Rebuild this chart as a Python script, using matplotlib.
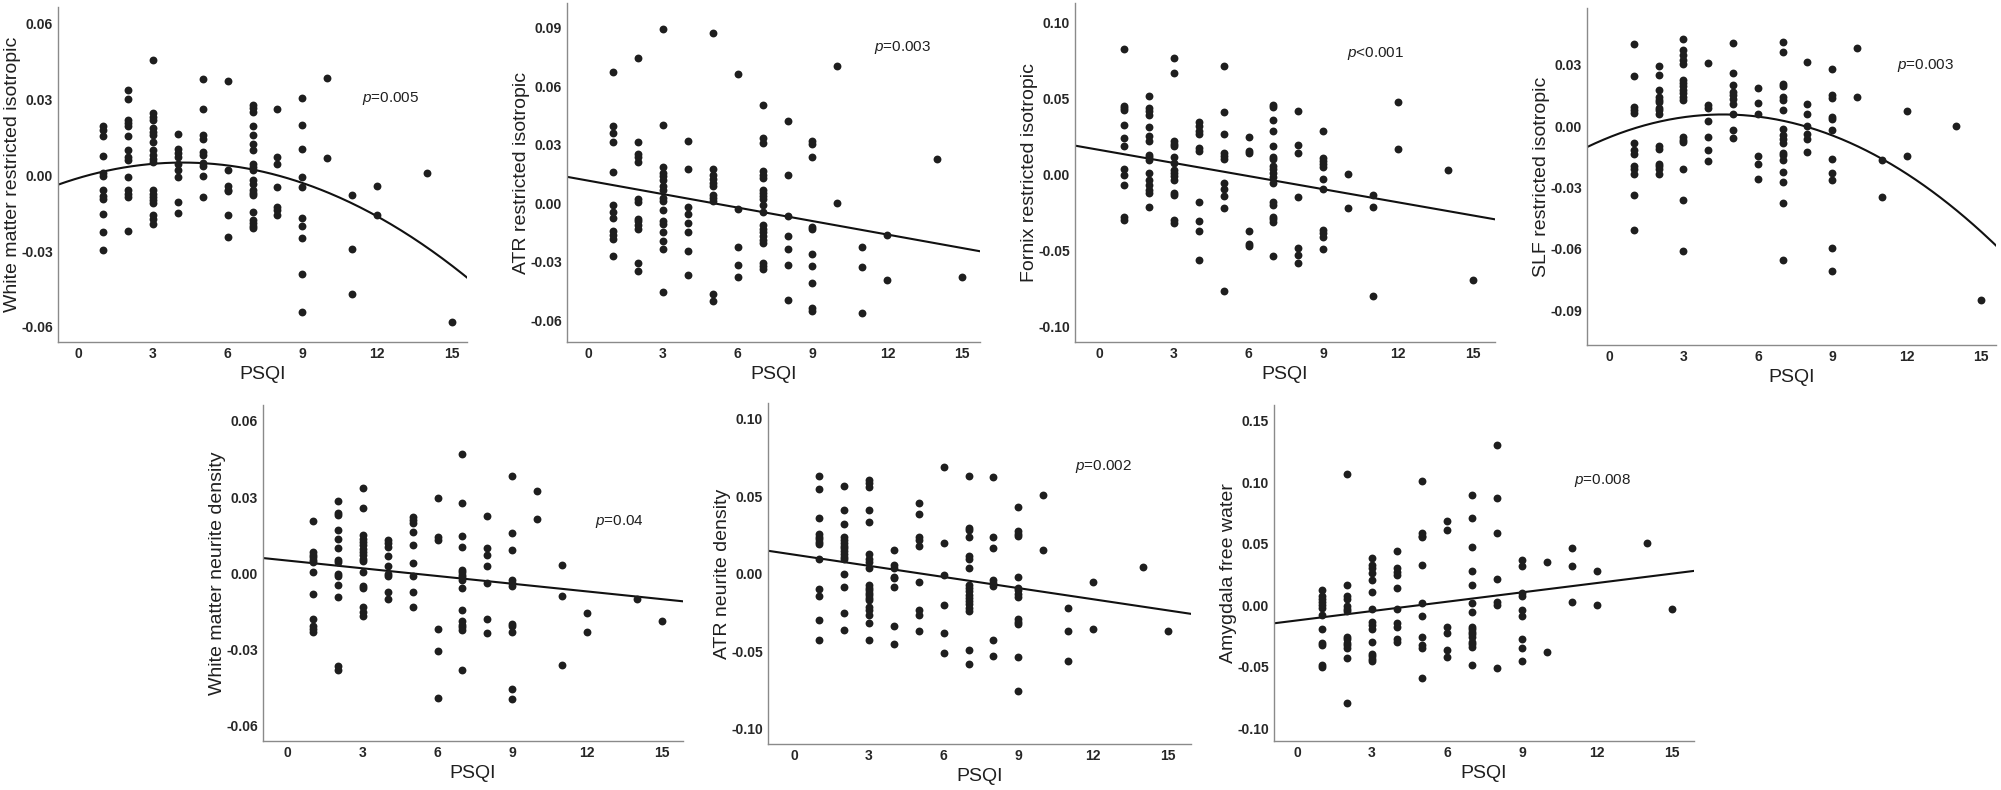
import numpy as np
import matplotlib
matplotlib.use("Agg")
import matplotlib.pyplot as plt
from matplotlib.ticker import FormatStrFormatter

plt.rcParams['font.family'] = ['Liberation Sans', 'DejaVu Sans']
plt.rcParams['axes.unicode_minus'] = False
plt.rcParams['mathtext.fontset'] = 'custom'
plt.rcParams['mathtext.it'] = 'Liberation Sans:italic'
plt.rcParams['mathtext.rm'] = 'Liberation Sans'

# residual values, grouped by PSQI score
wm_iso = {
    1: [0.0194, 0.0180, 0.0154, 0.0075, 0.0009, -0.0004, -0.0057, -0.0084, -0.0096, -0.0152, -0.0224, -0.0297],
    2: [0.0339, 0.0301, 0.0220, 0.0207, 0.0194, 0.0154, 0.0099, 0.0073, 0.0059, -0.0009, -0.0059, -0.0073, -0.0086, -0.0220],
    3: [0.0455, 0.0247, 0.0231, 0.0218, 0.0185, 0.0171, 0.0158, 0.0132, 0.0099, 0.0079, 0.0066, 0.0053, -0.0059,
        -0.0073, -0.0086, -0.0099, -0.0109, -0.0158, -0.0172, -0.0191],
    4: [0.0165, 0.0102, 0.0086, 0.0073, 0.0046, 0.0020, -0.0007, -0.0106, -0.0149],
    5: [0.0380, 0.0261, 0.0158, 0.0145, 0.0092, 0.0079, 0.0049, 0.0036, -0.0004, -0.0086],
    6: [0.0372, 0.0022, -0.0044, -0.0057, -0.0062, -0.0158, -0.0244],
    7: [0.0277, 0.0264, 0.0251, 0.0195, 0.0158, 0.0125, 0.0099, 0.0046, 0.0033, 0.0020, -0.0020, -0.0033, -0.0059,
        -0.0070, -0.0079, -0.0145, -0.0178, -0.0189, -0.0200, -0.0207],
    8: [0.0260, 0.0073, 0.0046, -0.0046, -0.0125, -0.0139, -0.0158],
    9: [0.0306, 0.0198, 0.0105, -0.0007, -0.0046, -0.0171, -0.0200, -0.0248, -0.0392, -0.0541],
    10: [0.0386, 0.0069],
    11: [-0.0079, -0.0290, -0.0468],
    12: [-0.0042, -0.0158],
    14: [0.0009],
    15: [-0.0580],
}
atr_iso = {
    1: [0.0673, 0.0394, 0.0360, 0.0313, 0.0158, -0.0009, -0.0046, -0.0077, -0.0142, -0.0163, -0.0183, -0.0274],
    2: [0.0745, 0.0313, 0.0252, 0.0236, 0.0209, 0.0022, 0.0005, -0.0080, -0.0094, -0.0111, -0.0132, -0.0308, -0.0346],
    3: [0.0894, 0.0399, 0.0185, 0.0154, 0.0137, 0.0120, 0.0086, 0.0065, 0.0026, 0.0012, -0.0038, -0.0094, -0.0108,
        -0.0146, -0.0197, -0.0236, -0.0457],
    4: [0.0320, 0.0175, -0.0021, -0.0055, -0.0103, -0.0149, -0.0248, -0.0368],
    5: [0.0873, 0.0176, 0.0142, 0.0125, 0.0103, 0.0086, 0.0039, 0.0026, 0.0012, -0.0466, -0.0500],
    6: [0.0664, -0.0029, -0.0223, -0.0317, -0.0377],
    7: [0.0502, 0.0334, 0.0308, 0.0163, 0.0146, 0.0128, 0.0065, 0.0051, 0.0034, 0.0022, -0.0009, -0.0046, -0.0115,
        -0.0132, -0.0146, -0.0171, -0.0188, -0.0205, -0.0308, -0.0325, -0.0337],
    8: [0.0420, 0.0146, -0.0068, -0.0171, -0.0236, -0.0320, -0.0497],
    9: [0.0320, 0.0303, 0.0235, -0.0123, -0.0134, -0.0262, -0.0325, -0.0408, -0.0539, -0.0553],
    10: [0.0705, 0.0],
    11: [-0.0226, -0.0329, -0.0565],
    12: [-0.0163, -0.0397],
    14: [0.0226],
    15: [-0.0380],
}
fornix_iso = {
    1: [0.0829, 0.0455, 0.0440, 0.0429, 0.0330, 0.0246, 0.0191, 0.0037, 0.0, -0.0066, -0.0279, -0.0297],
    2: [0.0521, 0.0440, 0.0418, 0.0396, 0.0312, 0.0257, 0.0220, 0.0132, 0.0116, 0.0099, 0.0011, -0.0033, -0.0066,
        -0.0099, -0.0116, -0.0213],
    3: [0.0769, 0.0670, 0.0220, 0.0204, 0.0187, 0.0116, 0.0077, 0.0033, 0.0015, -0.0007, -0.0033, -0.0116, -0.0132,
        -0.0297, -0.0314],
    4: [0.0345, 0.0323, 0.0292, 0.0270, 0.0176, 0.0160, -0.0180, -0.0301, -0.0369, -0.0560],
    5: [0.0719, 0.0411, 0.0270, 0.0143, 0.0125, 0.0103, -0.0051, -0.0095, -0.0136, -0.0220, -0.0763],
    6: [0.0248, 0.0160, 0.0147, -0.0367, -0.0455, -0.0468],
    7: [0.0462, 0.0446, 0.0358, 0.0292, 0.0193, 0.0121, 0.0103, 0.0059, 0.0037, 0.0011, -0.0011, -0.0051, -0.0176,
        -0.0198, -0.0275, -0.0292, -0.0308, -0.0532],
    8: [0.0422, 0.0198, 0.0143, -0.0143, -0.0484, -0.0527, -0.0582],
    9: [0.0292, 0.0110, 0.0092, 0.0073, 0.0051, -0.0029, -0.0095, -0.0363, -0.0385, -0.0411, -0.0488],
    10: [0.0004, -0.0220],
    11: [-0.0132, -0.0209, -0.0798],
    12: [0.0477, 0.0169],
    14: [0.0029],
    15: [-0.0692],
}
slf_iso = {
    1: [0.0402, 0.0245, 0.0095, 0.0082, 0.0065, -0.0082, -0.0118, -0.0137, -0.0196, -0.0207, -0.0232, -0.0335, -0.0509],
    2: [0.0296, 0.0250, 0.0176, 0.0144, 0.0131, 0.0119, 0.0091, 0.0078, 0.0062, -0.0098, -0.0109, -0.0183, -0.0196,
        -0.0207, -0.0232],
    3: [0.0429, 0.0372, 0.0348, 0.0323, 0.0307, 0.0229, 0.0212, 0.0196, 0.0180, 0.0163, 0.0144, 0.0127, -0.0052,
        -0.0069, -0.0077, -0.0211, -0.0362, -0.0611],
    4: [0.0310, 0.0103, 0.0091, 0.0026, -0.0052, -0.0118, -0.0170],
    5: [0.0410, 0.0263, 0.0201, 0.0168, 0.0152, 0.0136, 0.0108, 0.0059, -0.0016, -0.0057],
    6: [0.0189, 0.0114, 0.0059, -0.0147, -0.0183, -0.0260],
    7: [0.0413, 0.0364, 0.0209, 0.0196, 0.0144, 0.0131, 0.0082, -0.0011, -0.0044, -0.0060, -0.0082, -0.0131, -0.0142,
        -0.0167, -0.0224, -0.0273, -0.0376, -0.0656],
    8: [0.0315, 0.0111, 0.0059, 0.0, -0.0036, -0.0060, -0.0126],
    9: [0.0282, 0.0152, 0.0140, 0.0046, 0.0034, -0.0016, -0.0158, -0.0229, -0.0261, -0.0596, -0.0709],
    10: [0.0384, 0.0144],
    11: [-0.0167, -0.0346],
    12: [0.0075, -0.0147],
    14: [0.0002],
    15: [-0.0849],
}
wm_nd = {
    1: [0.0204, 0.0083, 0.0072, 0.0063, 0.0053, 0.0042, 0.0004, -0.0082, -0.0180, -0.0208, -0.0221, -0.0233],
    2: [0.0286, 0.0237, 0.0230, 0.0168, 0.0136, 0.0099, 0.0050, 0.0042, -0.0003, -0.0013, -0.0049, -0.0095,
        -0.0366, -0.0382],
    3: [0.0336, 0.0257, 0.0149, 0.0136, 0.0122, 0.0109, 0.0096, 0.0083, 0.0070, 0.0057, 0.0046, 0.0004, -0.0050,
        -0.0059, -0.0136, -0.0155, -0.0168],
    4: [0.0129, 0.0118, 0.0103, 0.0068, 0.0029, -0.0003, -0.0011, -0.0076, -0.0101],
    5: [0.0221, 0.0208, 0.0197, 0.0162, 0.0109, 0.0039, -0.0013, -0.0076, -0.0136],
    6: [0.0296, 0.0141, 0.0129, -0.0221, -0.0309, -0.0493],
    7: [0.0471, 0.0276, 0.0146, 0.0101, 0.0013, 0.0003, -0.0007, -0.0016, -0.0026, -0.0059, -0.0147, -0.0191,
        -0.0204, -0.0213, -0.0224, -0.0384],
    8: [0.0224, 0.0099, 0.0072, 0.0026, -0.0039, -0.0180, -0.0237],
    9: [0.0384, 0.0158, 0.0092, -0.0026, -0.0039, -0.0050, -0.0201, -0.0211, -0.0233, -0.0457, -0.0497],
    10: [0.0325, 0.0214],
    11: [0.0033, -0.0089, -0.0362],
    12: [-0.0158, -0.0234],
    14: [-0.0103],
    15: [-0.0188],
}
atr_nd = {
    1: [0.0632, 0.0544, 0.0356, 0.0255, 0.0237, 0.0222, 0.0205, 0.0188, 0.0097, -0.0101, -0.0145, -0.0298, -0.0432],
    2: [0.0567, 0.0410, 0.0317, 0.0237, 0.0216, 0.0198, 0.0179, 0.0162, 0.0145, 0.0127, 0.0108, 0.0091, 0.0,
        -0.0086, -0.0252, -0.0362],
    3: [0.0604, 0.0583, 0.0561, 0.0410, 0.0330, 0.0129, 0.0097, 0.0076, 0.0037, -0.0076, -0.0093, -0.0108, -0.0123,
        -0.0140, -0.0158, -0.0173, -0.0216, -0.0233, -0.0270, -0.0317, -0.0427],
    4: [0.0155, 0.0054, 0.0037, -0.0022, -0.0032, -0.0086, -0.0339, -0.0453],
    5: [0.0453, 0.0382, 0.0237, 0.0216, 0.0177, -0.0054, -0.0233, -0.0265, -0.0373],
    6: [0.0686, 0.0194, -0.0011, -0.0205, -0.0382, -0.0511],
    7: [0.0630, 0.0296, 0.0280, 0.0237, 0.0114, 0.0093, 0.0037, -0.0071, -0.0093, -0.0114, -0.0136, -0.0155,
        -0.0177, -0.0198, -0.0220, -0.0242, -0.0496, -0.0583],
    8: [0.0621, 0.0233, 0.0162, -0.0043, -0.0058, -0.0080, -0.0432, -0.0529],
    9: [0.0427, 0.0274, 0.0255, 0.0244, -0.0022, -0.0091, -0.0108, -0.0129, -0.0151, -0.0296, -0.0313, -0.0328,
        -0.0539, -0.0759],
    10: [0.0507, 0.0151],
    11: [-0.0220, -0.0371, -0.0567],
    12: [-0.0054, -0.0356],
    14: [0.0043],
    15: [-0.0371],
}
amyg_fw = {
    1: [0.0122, 0.0071, 0.0049, 0.0027, 0.0003, -0.0019, -0.0079, -0.0190, -0.0310, -0.0323, -0.0489, -0.0503],
    2: [0.1068, 0.0166, 0.0071, 0.0049, -0.0005, -0.0027, -0.0046, -0.0255, -0.0277, -0.0304, -0.0326, -0.0345,
        -0.0427, -0.0799],
    3: [0.0383, 0.0329, 0.0307, 0.0266, 0.0204, 0.0109, -0.0027, -0.0133, -0.0160, -0.0196, -0.0296, -0.0394,
        -0.0413, -0.0435, -0.0454],
    4: [0.0438, 0.0299, 0.0274, 0.0247, 0.0144, -0.0027, -0.0147, -0.0174, -0.0277, -0.0296],
    5: [0.1008, 0.0587, 0.0565, 0.0552, 0.0329, 0.0016, -0.0092, -0.0255, -0.0326, -0.0345, -0.0595],
    6: [0.0688, 0.0614, -0.0174, -0.0228, -0.0364, -0.0418],
    7: [0.0897, 0.0707, 0.0470, 0.0280, 0.0163, 0.0016, -0.0054, -0.0174, -0.0196, -0.0217, -0.0236, -0.0255,
        -0.0296, -0.0318, -0.0337, -0.0489],
    8: [0.1307, 0.0872, 0.0584, 0.0217, 0.0022, 0.0, -0.0508],
    9: [0.0370, 0.0321, 0.0098, 0.0076, -0.0041, -0.0087, -0.0277, -0.0345, -0.0454],
    10: [0.0348, -0.0378],
    11: [0.0462, 0.0321, 0.0027],
    12: [0.0280, 0.0003],
    14: [0.0505],
    15: [-0.0027],
}

# fit lines as drawn (polynomial coefficients, highest power first)
wm_iso_fit = [-0.00035, 0.00294, -0.00117]
atr_iso_fit = [-0.002305, 0.0115]
fornix_iso_fit = [-0.00288, 0.0165]
slf_iso_fit = [-0.00053, 0.004876, -0.005415]
wm_nd_fit = [-0.001014, 0.0049]
atr_nd_fit = [-0.0024, 0.0122]
amyg_fw_fit = [0.00254, -0.0124]

labels = ['White matter restricted isotropic', 'ATR restricted isotropic', 'Fornix restricted isotropic',
          'SLF restricted isotropic', 'White matter neurite density', 'ATR neurite density',
          'Amygdala free water']
p_texts = ['=0.005', '=0.003', '<0.001', '=0.003', '=0.04', '=0.002', '=0.008']

panels = [
    (wm_iso, wm_iso_fit, [0.029, 0.567, 0.2044, 0.424], (-0.8, 15.6), (-0.066, 0.0665),
     [-0.06, -0.03, 0.0, 0.03, 0.06], (11.4, 0.0303)),
    (atr_iso, atr_iso_fit, [0.2834, 0.567, 0.2064, 0.429], (-0.84, 15.72), (-0.0713, 0.1025),
     [-0.06, -0.03, 0.0, 0.03, 0.06, 0.09], (11.45, 0.0796)),
    (fornix_iso, fornix_iso_fit, [0.5372, 0.567, 0.2099, 0.429], (-0.96, 15.88), (-0.110, 0.113),
     [-0.10, -0.05, 0.0, 0.05, 0.10], (9.95, 0.0796)),
    (slf_iso, slf_iso_fit, [0.7931, 0.5633, 0.2044, 0.4266], (-0.89, 15.6), (-0.107, 0.0579),
     [-0.09, -0.06, -0.03, 0.0, 0.03], (11.6, 0.0299)),
    (wm_nd, wm_nd_fit, [0.1314, 0.062, 0.2099, 0.4253], (-1.0, 15.84), (-0.0663, 0.0663),
     [-0.06, -0.03, 0.0, 0.03, 0.06], (12.33, 0.0204)),
    (atr_nd, atr_nd_fit, [0.3838, 0.0582, 0.2114, 0.4316], (-1.04, 15.92), (-0.110, 0.110),
     [-0.10, -0.05, 0.0, 0.05, 0.10], (11.25, 0.069)),
    (amyg_fw, amyg_fw_fit, [0.6367, 0.062, 0.2099, 0.4253], (-0.92, 15.88), (-0.1106, 0.163),
     [-0.10, -0.05, 0.0, 0.05, 0.10, 0.15], (11.08, 0.1019)),
]

fig = plt.figure(figsize=(20.01, 7.9), dpi=100)

for i, (data, fit, pos, xl, yl, yt, ptxt) in enumerate(panels):
    ax = fig.add_axes(pos)
    xs = [k for k, vals in data.items() for _ in vals]
    ys = [v for vals in data.values() for v in vals]
    ax.scatter(xs, ys, s=32, color='#1e1e1e', zorder=3, linewidths=0)
    xx = np.linspace(xl[0], xl[1], 200)
    ax.plot(xx, np.polyval(fit, xx), color='#111111', lw=1.5, zorder=2)
    ax.set_xlim(*xl)
    ax.set_ylim(*yl)
    ax.set_xticks([0, 3, 6, 9, 12, 15])
    ax.set_yticks(yt)
    ax.yaxis.set_major_formatter(FormatStrFormatter('%.2f'))
    for s in ['top', 'right']:
        ax.spines[s].set_visible(False)
    for s in ['left', 'bottom']:
        ax.spines[s].set_color('#8a8a8a')
        ax.spines[s].set_linewidth(1.0)
    ax.tick_params(length=0, labelsize=10, labelcolor='#262626', pad=3.5)
    for t in ax.get_xticklabels() + ax.get_yticklabels():
        t.set_fontweight('bold')
    ax.set_xlabel('PSQI', fontsize=14, color='#202020', labelpad=4)
    ax.set_ylabel(labels[i], fontsize=14, color='#202020', labelpad=0)
    ax.text(ptxt[0], ptxt[1], r'$\it{p}$' + p_texts[i], fontsize=11, color='#202020',
            va='center', ha='left')

fig.savefig('out.png', dpi=100, facecolor='white')
